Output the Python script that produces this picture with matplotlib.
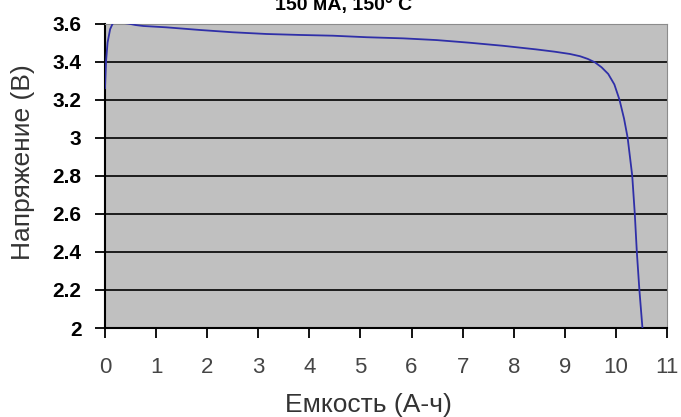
from matplotlib import pyplot as plt
import numpy as np

plt.rcParams['font.family'] = ['Liberation Sans', 'DejaVu Sans']

# discharge curve
capacity = [0, 0.02, 0.05, 0.1, 0.15, 0.2, 0.3, 0.45, 0.6, 0.75, 1.2, 1.86,
            2.5, 3.16, 3.8, 4.46, 5.12, 5.84, 6.49, 7.14, 7.79, 8.44, 8.8,
            9.1, 9.3, 9.45, 9.59, 9.72, 9.85, 9.97, 10.07, 10.16, 10.23,
            10.32, 10.37, 10.41, 10.46, 10.52]
voltage = [3.26, 3.4, 3.5, 3.57, 3.6, 3.605, 3.605, 3.6, 3.592, 3.587, 3.58,
           3.566, 3.554, 3.545, 3.54, 3.536, 3.528, 3.522, 3.513, 3.499,
           3.483, 3.464, 3.452, 3.44, 3.428, 3.414, 3.396, 3.37, 3.335, 3.28,
           3.2, 3.1, 3.0, 2.8, 2.6, 2.4, 2.2, 2.0]

x_ticks = np.arange(0, 12, 1)
y_ticks = [2, 2.2, 2.4, 2.6, 2.8, 3, 3.2, 3.4, 3.6]
y_tick_labels = ['2', '2.2', '2.4', '2.6', '2.8', '3', '3.2', '3.4', '3.6']

titulo = '150 мА, 150° C'
x_label = 'Емкость (А-ч)'
y_label = 'Напряжение (В)'

fig = plt.figure(figsize=(6.81, 4.17), dpi=100)
ax = fig.add_axes([0.1542, 0.2134, 0.8252, 0.7302])
ax.set_facecolor('#c0c0c0')

ax.plot(capacity, voltage, color='#2f2fa8', lw=1.3, zorder=3)

ax.set_xlim(0, 11)
ax.set_ylim(2, 3.6)

ax.set_xticks(x_ticks)
ax.set_yticks(y_ticks)
ax.set_yticklabels(y_tick_labels)

# linhas de grade horizontais
ax.grid(True, axis='y', color='black', lw=1.2, zorder=1)
ax.set_axisbelow(True)

# bordas
ax.spines['left'].set_color('black')
ax.spines['bottom'].set_color('black')
ax.spines['left'].set_linewidth(1.5)
ax.spines['bottom'].set_linewidth(1.5)
ax.spines['top'].set_color('#8c8c8c')
ax.spines['right'].set_color('#8c8c8c')

ax.tick_params(axis='y', direction='out', length=7, width=1.3, pad=10,
               labelsize=15, colors='black')
ax.tick_params(axis='x', direction='out', length=7, width=1.3, pad=14,
               labelsize=16, labelcolor='#454545', color='black')
for lab in ax.get_yticklabels():
    lab.set_fontweight('bold')

ax.set_xlabel(x_label, fontsize=19, color='#333333', va='baseline')
ax.xaxis.set_label_coords(0.468, -0.276)
ax.set_ylabel(y_label, fontsize=19, color='#333333', va='center', ha='center')
ax.yaxis.set_label_coords(-0.146, 0.545)

# titulo cortado no topo, como na imagem original
fig.text(0.504, 0.976, titulo, fontsize=14, fontweight='bold',
         ha='center', va='baseline')

fig.savefig('out.png', dpi=100)
